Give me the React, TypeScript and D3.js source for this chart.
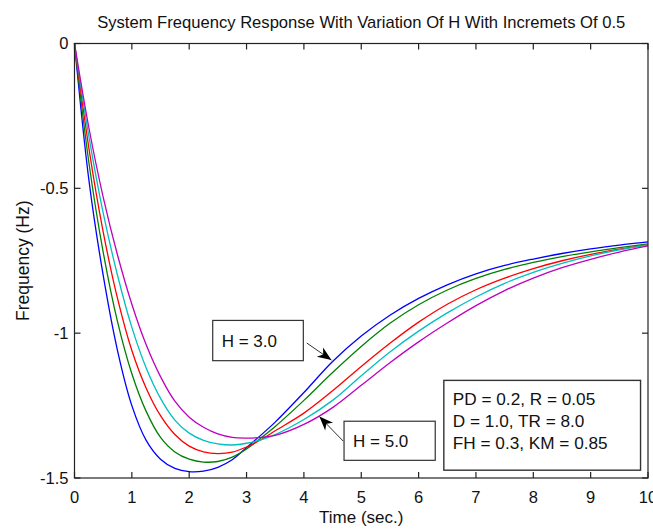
import React from "react";
import * as d3 from "d3";

const W = 653;
const H = 529;

const times = [0, 0.25, 0.5, 0.75, 1, 1.25, 1.5, 1.75, 2, 2.25, 2.5, 2.75, 3, 3.25, 3.5, 4, 4.5, 5, 5.5, 6, 6.5, 7, 7.5, 8, 8.5, 9, 9.5, 10];

const h30 = [0, -0.47, -0.8, -1.06, -1.25, -1.37, -1.435, -1.467, -1.478, -1.476, -1.463, -1.437, -1.395, -1.352, -1.307, -1.205, -1.098, -1.01, -0.938, -0.88, -0.833, -0.795, -0.766, -0.744, -0.725, -0.709, -0.696, -0.685];
const h35 = [0, -0.41, -0.72, -0.96, -1.14, -1.27, -1.36, -1.41, -1.435, -1.445, -1.443, -1.428, -1.4, -1.362, -1.322, -1.232, -1.136, -1.046, -0.966, -0.902, -0.851, -0.811, -0.78, -0.756, -0.736, -0.719, -0.705, -0.692];
const h40 = [0, -0.36, -0.65, -0.88, -1.06, -1.19, -1.285, -1.35, -1.39, -1.41, -1.416, -1.411, -1.393, -1.368, -1.337, -1.276, -1.199, -1.115, -1.035, -0.962, -0.9, -0.85, -0.81, -0.777, -0.75, -0.728, -0.71, -0.695];
const h45 = [0, -0.32, -0.585, -0.8, -0.98, -1.12, -1.225, -1.3, -1.345, -1.37, -1.382, -1.386, -1.38, -1.368, -1.35, -1.298, -1.232, -1.147, -1.065, -0.993, -0.93, -0.875, -0.828, -0.79, -0.759, -0.733, -0.712, -0.695];
const h50 = [0, -0.29, -0.53, -0.73, -0.9, -1.04, -1.15, -1.235, -1.29, -1.325, -1.348, -1.36, -1.362, -1.36, -1.353, -1.315, -1.257, -1.18, -1.102, -1.03, -0.965, -0.905, -0.853, -0.81, -0.774, -0.745, -0.72, -0.699];

const seriesNames = ["H = 3.0", "H = 3.5", "H = 4.0", "H = 4.5", "H = 5.0"];
const seriesValues = [h30, h35, h40, h45, h50];
const seriesColors = ["#0000ff", "#008000", "#ff0000", "#00bfbf", "#bf00bf"];

const xTicks = [0, 1, 2, 3, 4, 5, 6, 7, 8, 9, 10];
const yTicks = [0, -0.5, -1, -1.5];

const title = "System Frequency Response With Variation Of H With Incremets Of 0.5";
const xLabel = "Time (sec.)";
const yLabel = "Frequency (Hz)";

const labelBoxes = [
  { text: "H = 3.0", x0: 2.41, x1: 3.99, y0: -0.956, y1: -1.095 },
  { text: "H = 5.0", x0: 4.7, x1: 6.29, y0: -1.304, y1: -1.439 },
];
const arrows = [
  { tx: 4.05, ty: -1.034, hx: 4.48, hy: -1.093 },
  { tx: 4.687, ty: -1.373, hx: 4.27, hy: -1.288 },
];
const paramLines = ["PD = 0.2, R = 0.05", "D = 1.0, TR = 8.0", "FH = 0.3, KM = 0.85"];
const paramBox = { x0: 6.44, x1: 9.87, y0: -1.163, y1: -1.473 };

const FONT = "'Liberation Sans', Arial, Helvetica, sans-serif";

export default function App() {
  const x = d3.scaleLinear().domain([0, 10]).range([74.5, 648]);
  const y = d3.scaleLinear().domain([-1.5, 0]).range([478, 43.5]);
  const [left, right] = x.range();
  const [bottom, top] = y.range();

  const line = d3
    .line<[number, number]>()
    .x((d) => x(d[0]))
    .y((d) => y(d[1]))
    .curve(d3.curveCatmullRom.alpha(0.5));

  const arrowHead = (a: { tx: number; ty: number; hx: number; hy: number }) => {
    const x0 = x(a.tx), y0 = y(a.ty), x1 = x(a.hx), y1 = y(a.hy);
    const len = Math.hypot(x1 - x0, y1 - y0);
    const ux = (x1 - x0) / len, uy = (y1 - y0) / len;
    const nx = -uy, ny = ux;
    const L = 14, Wd = 5.5, notch = 4;
    const p = [
      [x1, y1],
      [x1 - L * ux + Wd * nx, y1 - L * uy + Wd * ny],
      [x1 - (L - notch) * ux, y1 - (L - notch) * uy],
      [x1 - L * ux - Wd * nx, y1 - L * uy - Wd * ny],
    ];
    return "M" + p.map((q) => q.join(",")).join("L") + "Z";
  };

  return (
    <svg
      width={W}
      height={H}
      style={{ position: "absolute", left: 0, top: 0, background: "#fff" }}
      fontFamily={FONT}
    >
      <rect x={0} y={0} width={W} height={H} fill="#fff" />
      <text x={(left + right) / 2} y={28} textAnchor="middle" fontSize={16.6} fill="#111">
        {title}
      </text>

      <g fill="none" strokeWidth={1.3}>
        {seriesValues.map((vals, i) => (
          <path
            key={seriesNames[i]}
            d={line(times.map((t, j) => [t, vals[j]] as [number, number])) || ""}
            stroke={seriesColors[i]}
          />
        ))}
      </g>

      <rect x={left} y={top} width={right - left} height={bottom - top} fill="none" stroke="#222" strokeWidth={1.2} />

      <g stroke="#222" strokeWidth={1.2}>
        {xTicks.map((t) => (
          <g key={"xt" + t}>
            <line x1={x(t)} x2={x(t)} y1={bottom} y2={bottom - 6} />
            <line x1={x(t)} x2={x(t)} y1={top} y2={top + 6} />
          </g>
        ))}
        {yTicks.map((t) => (
          <g key={"yt" + t}>
            <line x1={left} x2={left + 6} y1={y(t)} y2={y(t)} />
            <line x1={right} x2={right - 6} y1={y(t)} y2={y(t)} />
          </g>
        ))}
      </g>

      <g fontSize={16.5} fill="#111">
        {xTicks.map((t) => (
          <text key={"xl" + t} x={x(t)} y={503} textAnchor="middle">
            {String(t)}
          </text>
        ))}
        {yTicks.map((t) => (
          <text key={"yl" + t} x={left - 6} y={y(t)} dy="0.35em" textAnchor="end">
            {t === 0 ? "0" : String(t)}
          </text>
        ))}
      </g>

      <text x={(left + right) / 2} y={523} textAnchor="middle" fontSize={17} fill="#111">
        {xLabel}
      </text>
      <text
        transform={`translate(29,${(top + bottom) / 2}) rotate(-90)`}
        textAnchor="middle"
        fontSize={17.5}
        fill="#111"
      >
        {yLabel}
      </text>

      {labelBoxes.map((b) => (
        <g key={b.text}>
          <rect
            x={x(b.x0)}
            y={y(b.y0)}
            width={x(b.x1) - x(b.x0)}
            height={y(b.y1) - y(b.y0)}
            fill="#fff"
            stroke="#333"
            strokeWidth={1.2}
          />
          <text
            x={x(b.x0) + 9}
            y={(y(b.y0) + y(b.y1)) / 2}
            dy="0.36em"
            fontSize={17}
            fill="#111"
          >
            {b.text}
          </text>
        </g>
      ))}

      {arrows.map((a, i) => (
        <g key={"ar" + i}>
          <line x1={x(a.tx)} y1={y(a.ty)} x2={x(a.hx)} y2={y(a.hy)} stroke="#333" strokeWidth={1} />
          <path d={arrowHead(a)} fill="#000" />
        </g>
      ))}

      <rect
        x={x(paramBox.x0)}
        y={y(paramBox.y0)}
        width={x(paramBox.x1) - x(paramBox.x0)}
        height={y(paramBox.y1) - y(paramBox.y0)}
        fill="#fff"
        stroke="#333"
        strokeWidth={1.4}
      />
      {paramLines.map((s, i) => (
        <text key={s} x={x(paramBox.x0) + 9} y={404.5 + i * 22} fontSize={17.2} fill="#111">
          {s}
        </text>
      ))}
    </svg>
  );
}
